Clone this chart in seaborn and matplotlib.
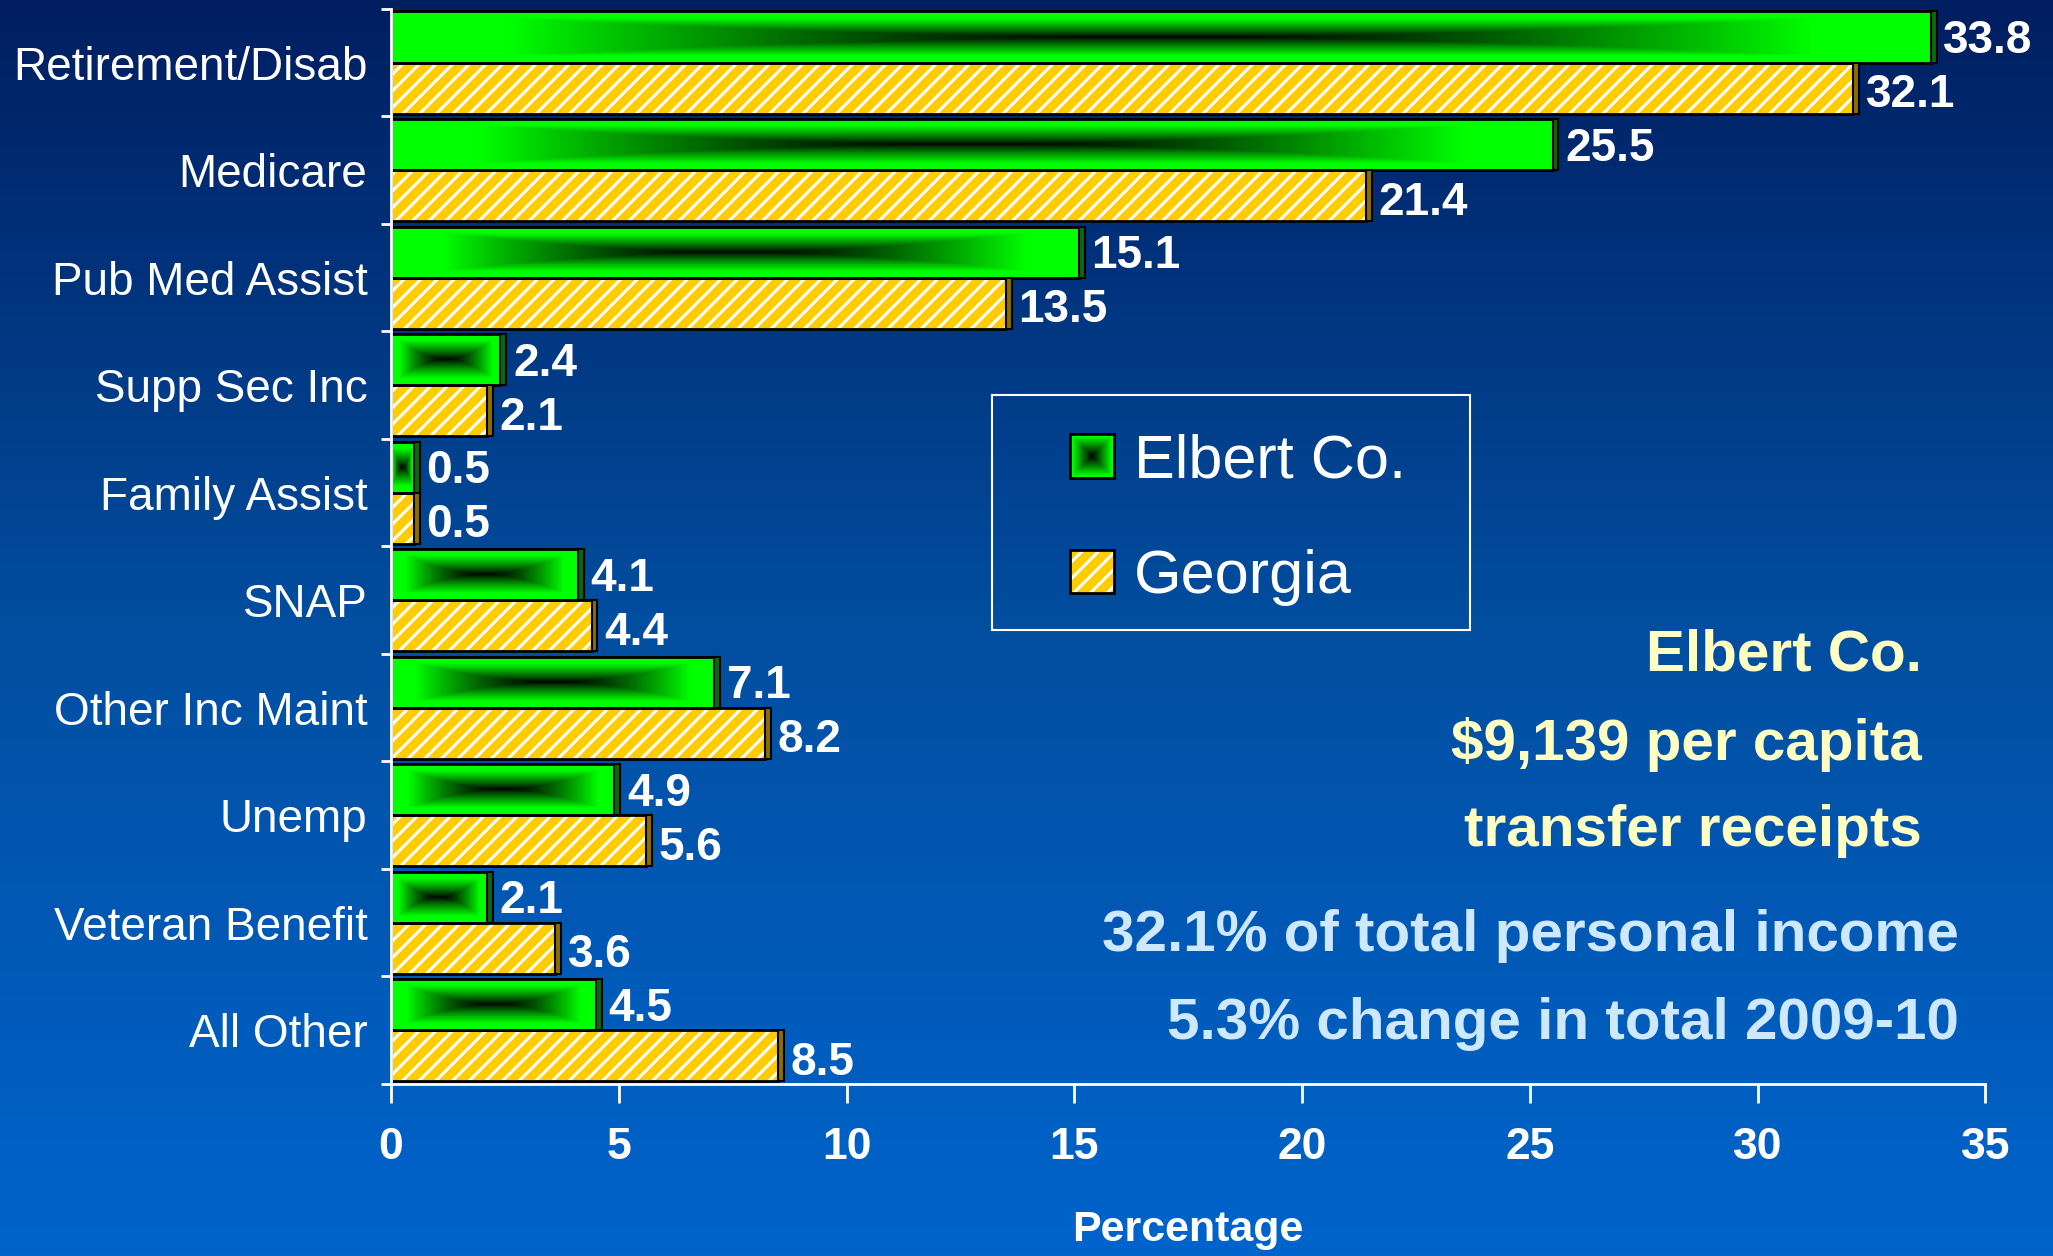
import numpy as np
import pandas as pd
import matplotlib
matplotlib.use('Agg')
import matplotlib.pyplot as plt
import seaborn as sns
from matplotlib.patches import Rectangle, Patch
from matplotlib.legend_handler import HandlerTuple

categories = ['Retirement/Disab', 'Medicare', 'Pub Med Assist', 'Supp Sec Inc',
              'Family Assist', 'SNAP', 'Other Inc Maint', 'Unemp',
              'Veteran Benefit', 'All Other']
elbert = [33.8, 25.5, 15.1, 2.4, 0.5, 4.1, 7.1, 4.9, 2.1, 4.5]
georgia = [32.1, 21.4, 13.5, 2.1, 0.5, 4.4, 8.2, 5.6, 3.6, 8.5]
series = ['Elbert Co.', 'Georgia']
xticks = [0, 5, 10, 15, 20, 25, 30, 35]
notes_yellow = ['Elbert Co.', '$9,139 per capita', 'transfer receipts']
notes_blue = ['32.1% of total personal income', '5.3% change in total 2009-10']

sns.set_theme(style='white')
plt.rcParams['font.family'] = ['Liberation Sans', 'DejaVu Sans']
plt.rcParams['hatch.linewidth'] = 2.2

df = pd.DataFrame({
    'cat': categories * 2,
    'val': elbert + georgia,
    'series': [series[0]] * len(elbert) + [series[1]] * len(georgia),
})

fig = plt.figure(figsize=(20.53, 12.56), dpi=100)

# slide background, dark navy at top to bright blue at bottom
bg = fig.add_axes([0, 0, 1, 1], zorder=-10)
t = np.linspace(0, 1, 256)
stops = np.array([[0, 30, 96], [2, 78, 160], [0, 100, 204]]) / 255
grad = np.stack([np.interp(t, [0, 0.5, 1], stops[:, c]) for c in range(3)], axis=-1)
bg.imshow(grad[:, None, :], aspect='auto', extent=[0, 1, 0, 1])
bg.axis('off')

ax = fig.add_axes([0.1905, 0.137, 0.7765, 0.856])
ax.set_facecolor('none')
sns.barplot(data=df, y='cat', x='val', hue='series', orient='h',
            palette=['#00ee00', '#ffcc00'], saturation=1, width=0.95,
            edgecolor='black', linewidth=2, legend=False, ax=ax)

# "from centre" shading for the county bars: black core fading out to green
u = np.abs(np.linspace(-1, 1, 400))
v = np.abs(np.linspace(-1, 1, 80))
d = np.maximum(u[None, :], v[:, None] ** 0.55)
shade = np.zeros((80, 400, 3))
shade[..., 1] = np.clip(d / 0.85, 0, 1) ** 1.5

strip = 0.13
for p in ax.containers[0]:
    x0, y0, w, h = p.get_x(), p.get_y(), p.get_width(), p.get_height()
    z = p.get_zorder()
    im = ax.imshow(shade, extent=[x0, x0 + w, y0 + h, y0], aspect='auto',
                   interpolation='bilinear', zorder=z + 0.1)
    im.set_clip_path(p)
    ax.add_patch(Rectangle((x0, y0), w, h, fill=False, ec='black', lw=2, zorder=z + 0.2))
    ax.add_patch(Rectangle((x0 + w, y0), strip, h, fc='#0b6a0b', ec='black', lw=1.5, zorder=z + 0.2))

for p in ax.containers[1]:
    x0, y0, w, h = p.get_x(), p.get_y(), p.get_width(), p.get_height()
    z = p.get_zorder()
    p.set_edgecolor('white')
    p.set_linewidth(0)
    p.set_hatch('//')
    ax.add_patch(Rectangle((x0, y0), w, h, fill=False, ec='black', lw=2, zorder=z + 0.2))
    ax.add_patch(Rectangle((x0 + w, y0), strip, h, fc='#8c6e00', ec='black', lw=1.5, zorder=z + 0.2))

for cont, vals, dy in zip(ax.containers, [elbert, georgia], [-3, -5]):
    texts = ax.bar_label(cont, labels=[f'{x:.1f}' for x in vals], padding=9,
                         color='white', fontsize=33, fontweight='bold')
    for txt in texts:
        txt.xyann = (9, dy)

ax.set_xlim(0, 35)
ax.set_ylim(len(categories) - 0.5, -0.5)
ax.set_xticks(xticks)
ax.set_yticks(range(len(categories)))
ax.set_yticklabels(categories)
ax.set_yticks(np.arange(-0.5, len(categories), 1), minor=True)
ax.tick_params(axis='x', bottom=True, length=14, width=2, colors='white',
               pad=17, labelsize=32)
ax.tick_params(axis='y', which='major', left=True, length=0, pad=17,
               labelsize=33, labelcolor='white')
ax.tick_params(axis='y', which='minor', left=True, length=7, width=2,
               color='white', direction='out')
for lbl in ax.get_xticklabels():
    lbl.set_fontweight('bold')

ax.set_ylabel('')
ax.set_xlabel('Percentage', fontsize=31, fontweight='bold', color='white', labelpad=30)
ax.spines[['top', 'right']].set_visible(False)
for s in ['left', 'bottom']:
    ax.spines[s].set_color('white')
    ax.spines[s].set_linewidth(2)

handles = [Patch(fc='#00ee00', ec='black', lw=2),
           (Patch(fc='#ffcc00', ec='white', hatch='//', lw=0),
            Patch(fc='none', ec='black', lw=2))]
leg = ax.legend(handles, series, handler_map={tuple: HandlerTuple(ndivide=1, pad=0)},
                fontsize=44, labelcolor='white', frameon=False,
                loc='center left', bbox_to_anchor=(0.426, 0.525), borderpad=0,
                borderaxespad=0, handlelength=0.72, handleheight=0.72,
                handletextpad=0.32, labelspacing=0.96)
ax.add_patch(Rectangle((0.377, 0.422), 0.300, 0.219, transform=ax.transAxes,
                       fill=False, ec='white', lw=1.5, zorder=5))

for txt, y in zip(notes_yellow, [0.478, 0.407, 0.338]):
    fig.text(0.936, y, txt, ha='right', va='center', fontsize=42,
             fontweight='bold', color='#ffffc4')
for txt, y in zip(notes_blue, [0.255, 0.185]):
    fig.text(0.954, y, txt, ha='right', va='center', fontsize=42,
             fontweight='bold', color='#cde8ff')

# same centre shading on the county legend swatch
fig.canvas.draw()
bb = leg.legend_handles[0].get_window_extent().transformed(fig.transFigure.inverted())
sq = np.linspace(-1, 1, 60)
sd = np.maximum(np.abs(sq)[None, :], np.abs(sq)[:, None])
swatch = np.zeros((60, 60, 3))
swatch[..., 1] = np.clip(sd / 0.9, 0, 1)
sax = fig.add_axes([bb.x0, bb.y0, bb.width, bb.height], zorder=5)
sax.imshow(swatch, aspect='auto', interpolation='bilinear')
sax.set_xticks([])
sax.set_yticks([])
for s in sax.spines.values():
    s.set_color('black')
    s.set_linewidth(2)

fig.savefig('out.png', dpi=100)
